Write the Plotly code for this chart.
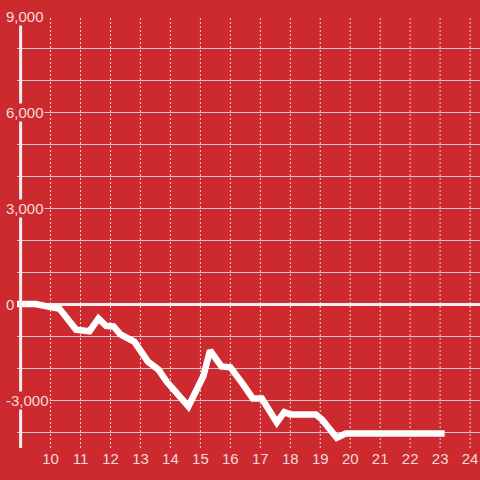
import plotly.graph_objects as go

# data
x_vals = [8.88, 9.5, 10.3, 10.5, 10.85, 11.3, 11.6, 11.85, 12.1, 12.33, 12.8, 13.25, 13.6, 13.88,
          14.1, 14.6, 15.1, 15.32, 15.7, 16.0, 16.4, 16.75, 17.05, 17.55, 17.8, 18.0, 18.85,
          19.05, 19.55, 19.85, 23.15]
y_vals = [0, 0, -150, -400, -800, -850, -450, -680, -700, -950, -1180, -1800, -2050, -2430,
          -2650, -3200, -2250, -1450, -1950, -1980, -2480, -2950, -2950, -3700, -3380, -3450, -3450,
          -3600, -4180, -4050, -4050]
x_ticks = list(range(10, 25))
x_tick_labels = [str(v) for v in x_ticks]
y_label_vals = [9000, 6000, 3000, 0, -3000]
y_label_text = ["9,000", "6,000", "3,000", "0", "-3,000"]

RED = "#cd2a2f"
LABEL = "#f3dada"
FONT = "Liberation Sans, Arial, sans-serif"

fig = go.Figure()
fig.add_trace(go.Scatter(x=x_vals, y=y_vals, mode="lines",
                         line=dict(color="#ffffff", width=6.5),
                         hoverinfo="skip", showlegend=False))

fig.update_layout(
    width=480, height=480,
    margin=dict(l=17, r=0, t=16, b=32),
    paper_bgcolor=RED, plot_bgcolor=RED,
    font=dict(family=FONT, size=15, color=LABEL),
    showlegend=False,
    xaxis=dict(range=[8.88, 24.33], tickmode="array", tickvals=x_ticks, ticktext=x_tick_labels,
               showgrid=False, zeroline=False, showline=False, ticks="",
               tickfont=dict(size=15, color=LABEL, family=FONT)),
    yaxis=dict(range=[-4500, 9005], dtick=1000, tick0=0,
               showgrid=True, gridcolor="#d2c6c6", gridwidth=1,
               zeroline=True, zerolinecolor="#f5eeee", zerolinewidth=3,
               showticklabels=False, showline=False, ticks=""),
)

# vertical dotted grid lines at each x tick
for xv in x_ticks:
    fig.add_shape(type="line", xref="x", yref="paper", x0=xv, x1=xv, y0=0, y1=1,
                  line=dict(color="#ecd2d2", width=1, dash="2px,2px"), layer="below")

# y axis line
fig.add_shape(type="line", xref="x", yref="paper", x0=9.0, x1=9.0, y0=0, y1=1,
              line=dict(color="#f3eded", width=3), layer="above")

for v, t in zip(y_label_vals, y_label_text):
    fig.add_annotation(x=0, xref="paper", y=v, yref="y", text=t, showarrow=False,
                       xanchor="left", yanchor="middle", xshift=-12,
                       bgcolor=RED, borderpad=0,
                       font=dict(size=15, color=LABEL, family=FONT))

fig.write_html("out.html", config={"displayModeBar": False},
               post_script="document.body.style.margin='0';document.body.style.padding='0';"
                           "document.body.style.overflow='hidden';")
